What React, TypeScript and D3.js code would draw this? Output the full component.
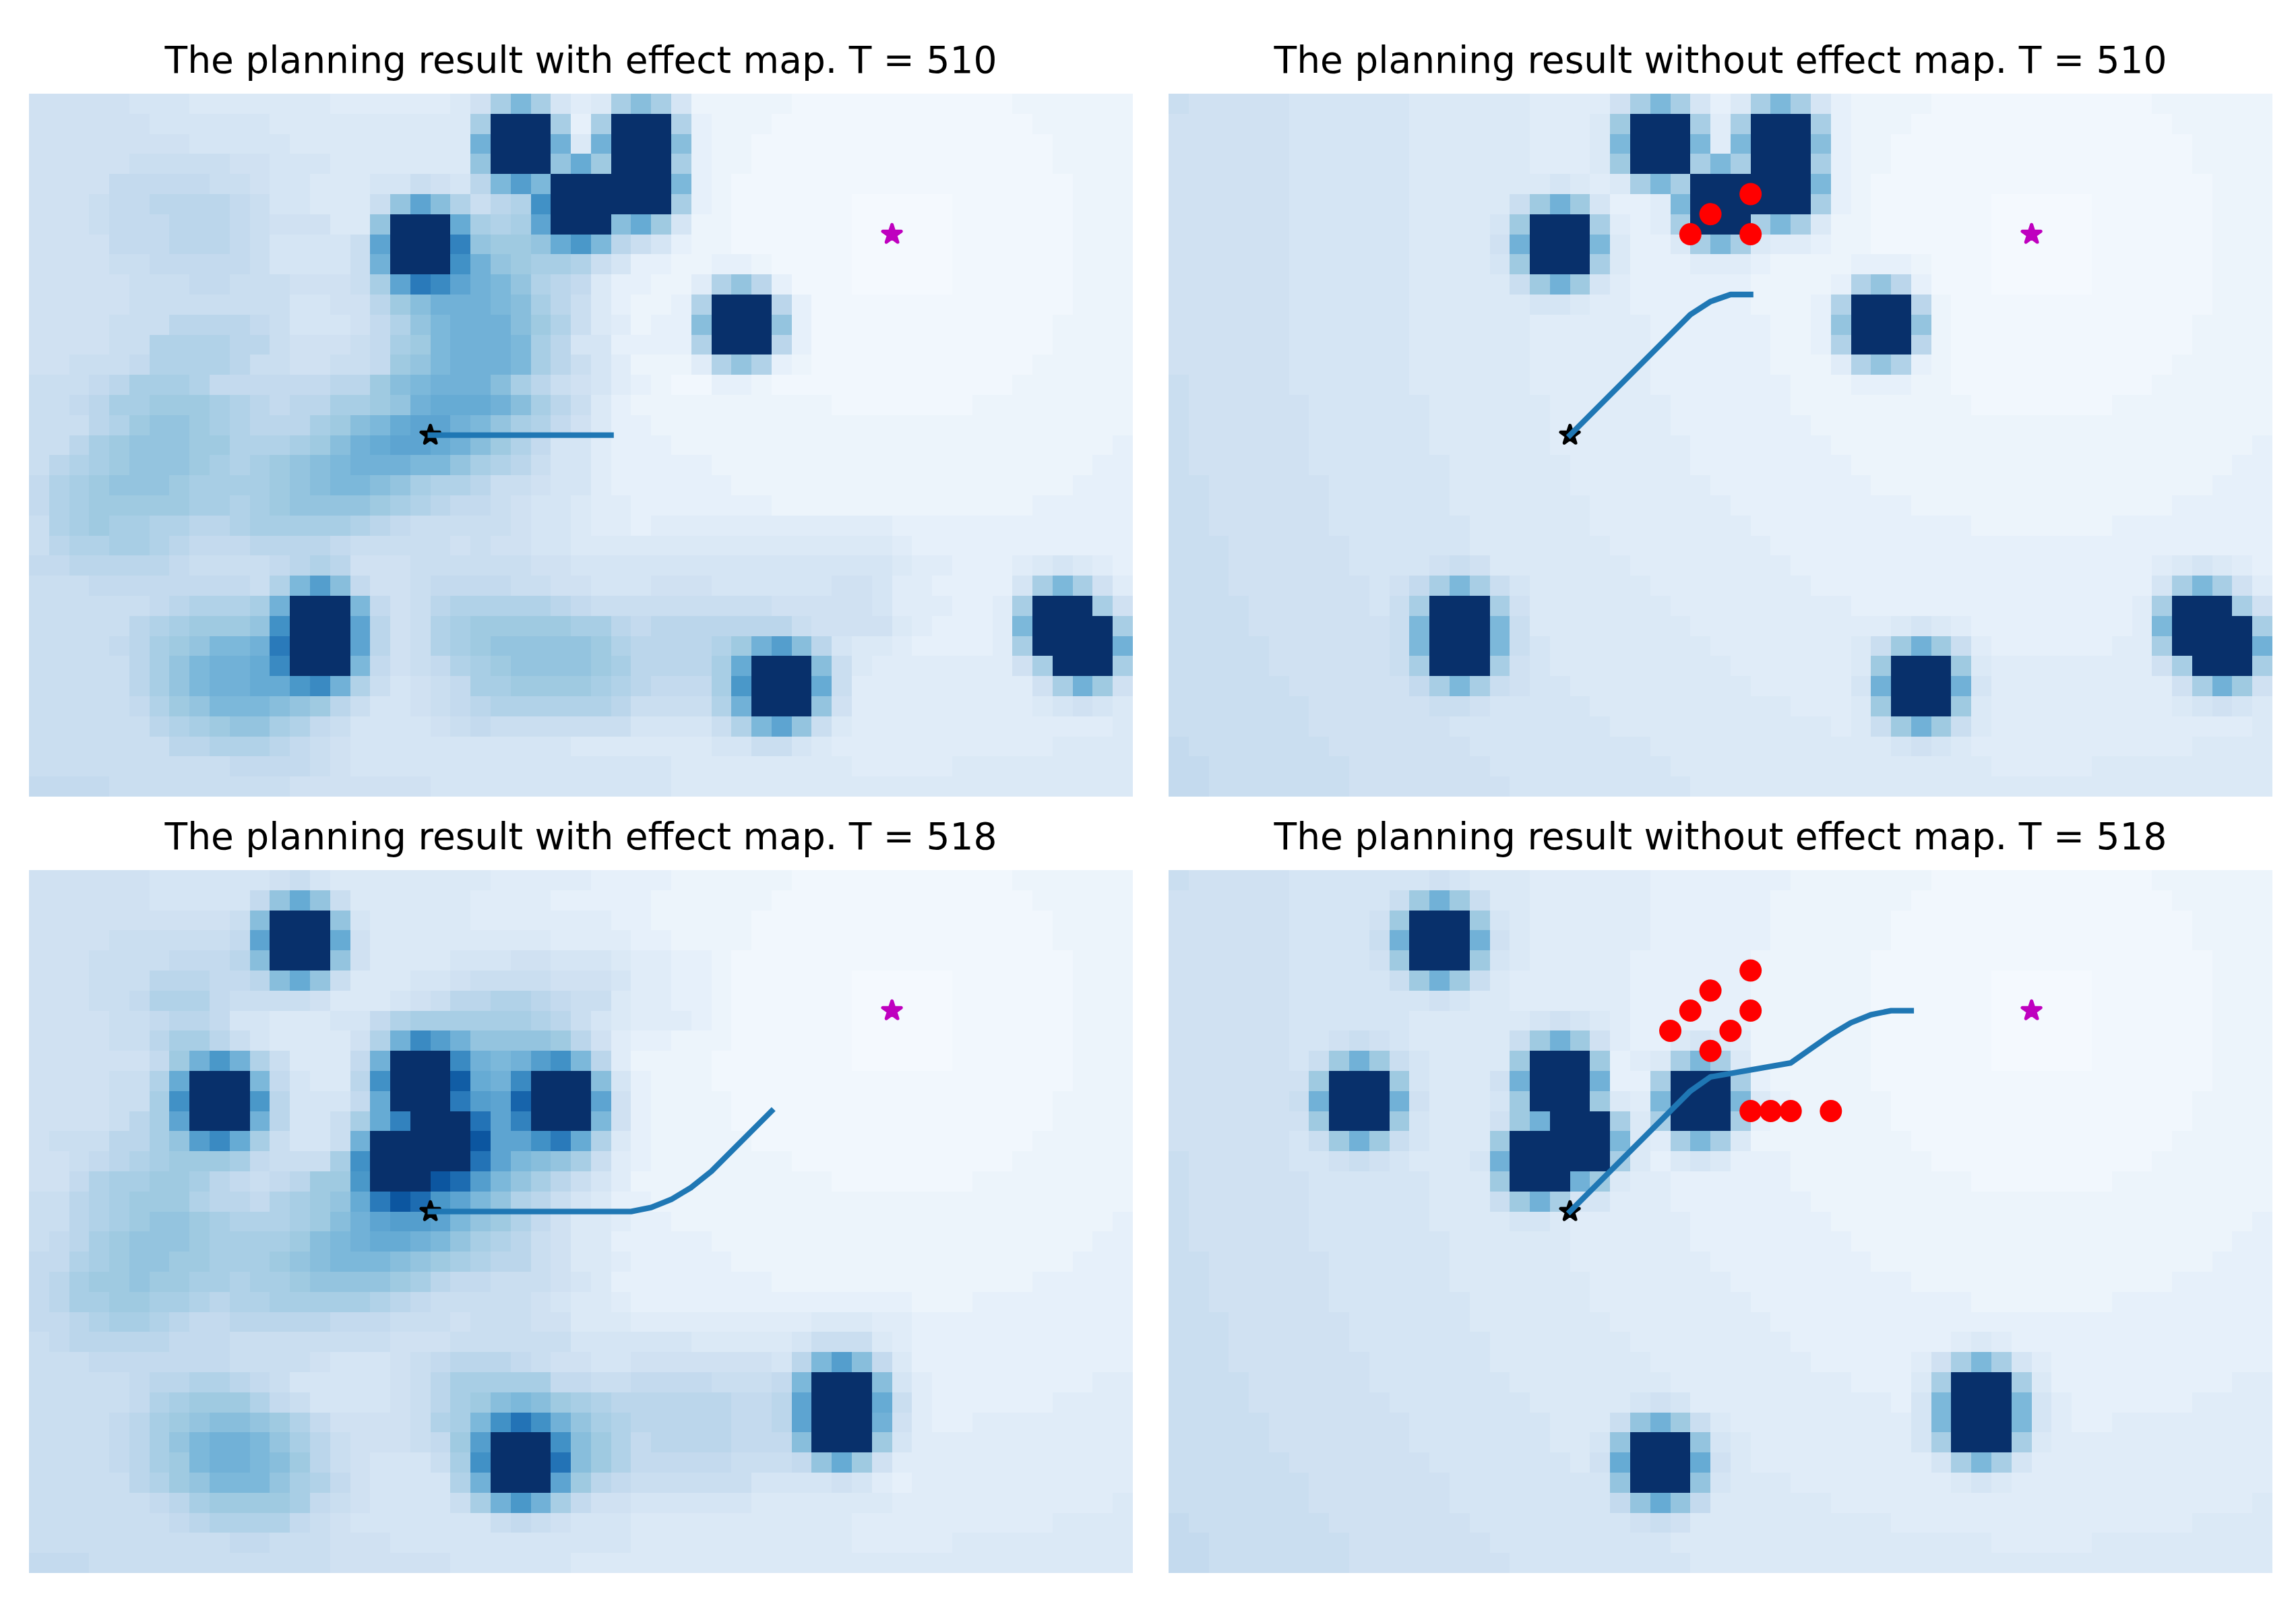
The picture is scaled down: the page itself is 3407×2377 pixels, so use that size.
import React from 'react';
import * as d3 from 'd3';

// Cell values, one char per cell, 0-9a-z = 0..35 (35 is the darkest).
// Spaces are only there to make the columns countable.
const effectCells510 = [
  '7777766655 5555544444 457cgc645c fc62222211 1111111112 22222',
  '7777776666 6655555555 55czzzc3cz zzb3222111 1111111111 22222',
  '7777777766 6665555555 55hzzzh5hz zzf3221111 1111111111 12222',
  '7777788888 7766655555 55ezzzeidz zzc3221111 1111111111 12222',
  '7777999998 8766555668 76agkgzzzz zzg3211111 1111111111 11222',
  '777899aaaa 98665558ej fb8abmzzzz zzc3211111 1000001111 11222',
  '7778999aaa 9877755ezz zicbcjzzzf id62211111 1000001111 11222',
  '7777999aaa 9866668jzz zoeddeilga 8632211111 1000001111 11222',
  '7777889999 9866668hzz zmhedccb86 3322332111 1000001111 11222',
  '7777788899 8887778cjp njhgeba953 3224bea311 1000001111 11222',
  '7777788888 8886677adf hhhgfca853 223bzzza31 1111111111 11222',
  '7777888aaa a9866679be ghhhfdb854 233fzzze31 1111111111 12222',
  '777788bbbb aa877789cd ghhhgca663 333bzzza31 1111111111 12222',
  '778889bbbb a8877889de ghhhgca864 2224beb321 1111111111 22222',
  '8889acccb9 99999aadfg hhhfca8764 3211332111 1111111112 22222',
  '889accdddc ba9aaccdeh iiihfca853 2222222222 1111111222 22222',
  '888abdeedc baaacdfgij jhgecb9753 3222222222 2222222222 22222',
  '88acdeeedd bbbcdfhijj ihfdb96643 3322222222 2222222222 22223',
  '8abcdeeedc bcdefghhhg gecba86643 3333222222 2222222222 22233',
  '9bcdeeedcc ccdefggfec bba8876643 3333322222 2222222222 22333',
  '9bcdddddcc bcdeeeedcb a998766544 3333333222 2222222222 33333',
  '8bcdccbbaa bcccccba98 8888766544 3444444444 4443333333 33333',
  '8abbccba99 9aaaa98888 8787766555 5555555555 5554333333 33333',
  '99aaaaa988 889aba7778 8888877666 6666666666 6665443334 56543',
  '8889999999 98bgkf9778 9999887766 6777666666 7764433336 cgc74',
  '8888889abb bchzzzg978 abbbbba988 8888888777 776444334c zzzc7',
  '88888abcdd demzzzja78 bcdddddcca 9aaaaaaa87 777543334g zzzzc',
  '88889acdeg ghpzzzja78 bcdeeeeedb aaaabdhkfa 655433334c zzzzh',
  '88888acegh hinzzzg978 9bcdeeeedc aaaacizzzf 8544444447 czzzc',
  '88888acegh hiilnhb867 89ccddddcb a999clzzzi 8444444444 7chd7',
  '888889bdeg ggfeda8667 89abbbbbba 8888bhzzze 7444444444 56765',
  '888888abcd eecb986666 7898888888 66668bgje8 5444444444 44445',
  '8888888aab bba9876666 6666666555 5555668865 4444444444 45555',
  '8888888888 9999876666 6666666666 6655555555 5444445555 55555',
  '9999888888 8887777777 6666666666 6655555555 5555555555 55555',
];

const plainCells510 = [
  '8777776666 6655555544 447cgc635c gc63222211 1111111112 22222',
  '7777776666 6655555544 45dzzzc4cz zzc3222111 1111111111 22222',
  '7777776666 6655555544 45gzzzg4gz zzf3221111 1111111111 12222',
  '7777776666 6655555544 45dzzzcgcz zzc3221111 1111111111 12222',
  '7777776666 6655555556 545cgczzzz zzg3211111 1111111111 11222',
  '7777776666 66555558dh d6334gzzzz zzc3211111 1000001111 11222',
  '7777776666 6655556dzz zc434czzzc gc52211111 1000001111 11222',
  '7777776666 6655557hzz zg5335cgc5 4432211111 1000001111 11222',
  '7777776666 6655556dzz zc53334443 2222333211 1000001111 11222',
  '7777776666 66555558dh d643333332 2223bea311 1000001111 11222',
  '7777776666 6655555566 5443333332 223bzzza21 1111111111 11222',
  '7777776666 6655555544 4444333333 223ezzze21 1111111111 12222',
  '7777776666 6655555544 4444333333 223bzzza21 1111111111 12222',
  '7777776666 6655555544 4444333333 2224beb321 1111111111 22222',
  '8777776666 6655555544 4444333333 3222333221 1111111112 22222',
  '8777777666 6665555554 4444433333 3222222222 1111111222 22222',
  '8777777666 6665555554 4444433333 3322222222 2222222222 22222',
  '8777777666 6665555554 4444443333 3332222222 2222222222 22223',
  '8777777666 6666555555 4444443333 3333222222 2222222222 22233',
  '8877777766 6666555555 4444444333 3333322222 2222222222 22333',
  '8877777766 6666555555 5444444433 3333333222 2222222222 33333',
  '8877777766 6666655555 5444444443 3333333333 2222222333 33333',
  '8887777776 6666655555 5544444444 3333333333 3333333333 33333',
  '8887777776 6667875555 5554444444 4333333333 3333333334 56543',
  '8887777777 679cgc8655 5555444444 4433333333 3333333336 cgc74',
  '8888777777 68czzzc755 5555544444 4444333333 333333334c zzzc7',
  '8888777777 78gzzzg855 5555554444 4444445654 333333334g zzzzc',
  '8888877777 78gzzzg865 5555555444 444458dhd8 433333344c zzzzh',
  '8888877777 78czzzc765 5555555544 44445dzzzd 5444444447 czzzc',
  '8888887777 779cgc8766 5555555554 44446hzzzh 6444444444 7chd7',
  '8888888777 7778876666 6555555555 54445dzzzd 5444444444 56765',
  '8888888777 7777666666 6655555555 555458dhd8 5444444444 44445',
  '9888888877 7777766666 6666555555 5555556765 4444444444 45555',
  '9988888887 7777776666 6666655555 5555555555 5444445555 55555',
  '9988888887 7777777666 6666665555 5555555555 5555555555 55555',
];

const effectCells518 = [
  '7777776666 6678655555 5554444433 3322222211 1111111112 22222',
  '7777776666 69eie85555 5544443333 3222222111 1111111111 22222',
  '7777777777 8fzzze6555 5544444443 3222221111 1111111111 12222',
  '7777888888 9jzzzi7555 5555554444 3322221111 1111111111 12222',
  '7778888999 afzzze7555 5666776665 4433211111 1111111111 11222',
  '777888aaa9 9afie85556 6788887776 4433211111 1000001111 11222',
  '777889bbb9 8888755567 8aabba9885 4433211111 1000001111 11222',
  '7777889aa9 66555669bc cccccba865 4443211111 1000001111 11222',
  '777788acca 8655557bhn kheeeeda74 3322211111 1000001111 11222',
  '7777779dhl hb85559hzz znhghkmga4 2222111111 1000001111 11222',
  '777788bizz zg9655amzz ztihnzzzf6 3222111111 1111111111 11222',
  '777788cmzz zla6669izz zpkjszzzj7 3222211111 1111111111 12222',
  '77778acjzz zha668cioz zzqjozzzg7 3222211111 1111111111 12222',
  '7888aacekn ic8668hzzz zzujjmpib5 3222221111 1111111111 22222',
  '7789abcddd c9888cmzzz zzqjgfec84 3222222211 1111111112 22222',
  '779bccddca 989addlzzz urkgeca864 2222222222 1111111222 22222',
  '88abcdddba a9bcdeipur ljgeba8653 3222222222 2222222222 22222',
  '88abcdeedc bbbcdfhjkk jgedb97554 3322222222 2222222222 22223',
  '89acdeeedc cccdfghiih gecba87553 3333222222 2222222222 22233',
  '99bcdeeddc ccdefgggfe dcbaa87554 3333322222 2222222222 22333',
  '9acddeddcc bccdeeeedc a998887653 3333333222 2222222222 33333',
  '9accddccba bbcccccba9 8888876554 3333333333 3333222333 33333',
  '99abccba99 aaaaa99988 8788877555 4444444445 5544333333 33333',
  '89aaaaa999 8888888877 7888888666 6665555568 8854333333 33333',
  '8889999999 8888766678 9aaa987766 77777776ag kf95333333 33333',
  '888889aabb a986666678 accccc9988 99998889gz zzf6433333 33344',
  '888889bcdd db98666678 acdfgfdcba aaaaa99ajz zzi8433333 34444',
  '88889acdef fedb977778 bcgmqmhecb aaaaa99ajz zzh7433444 44444',
  '88889acegh hgeca87778 9dkzzzmfdb 9aaaa999fz zzd6444444 44444',
  '88889acdgh hgfda87666 8cmzzzqfdb 999998889e id74444444 44444',
  '88888abdeg ggecb97666 6bhzzzjda9 8888886666 7643444444 44444',
  '8888889acd dddc987666 68chlhc977 6666665555 5554444444 44445',
  '88888889ab bbb9876666 6668987666 5555555555 5444444444 45555',
  '8888888888 9988877766 6666666666 5555555555 5444445555 55555',
  '9998888888 8888877777 7666666555 5555555555 5555555555 55555',
];

const plainCells518 = [
  '8777776666 6667655544 4444333333 3222222211 1111111112 22222',
  '7777776666 68dhd85544 4444333333 2222222111 1111111111 22222',
  '7777776666 7dzzzd6544 4444333333 2222221111 1111111111 12222',
  '7777776666 8hzzzh7544 4444333333 2222221111 1111111111 12222',
  '7777776666 7dzzzd6544 4443333332 2222211111 1111111111 11222',
  '7777776666 68dhd85444 4443333332 2222211111 1000001111 11222',
  '7777776666 6667655444 4443333332 2222211111 1000001111 11222',
  '7777776666 6655555567 6543333332 2222211111 1000001111 11222',
  '7777776678 76555558dh d743356542 2222211111 1000001111 11222',
  '77777768dh d865555dzz zd345cgc52 2222211111 1000001111 11222',
  '7777777dzz zd65557hzz zh33czzzc3 2222211111 1111111111 11222',
  '7777778hzz zh75556dzz zd54gzzzg5 3222221111 1111111111 12222',
  '7777777dzz zd65557dhz zzc5czzzc3 2222221111 1111111111 12222',
  '77777768dh d86555dzzz zzg54cgc52 2222222111 1111111111 22222',
  '8777776678 765556hzzz zzc5356533 3222222211 1111111112 22222',
  '8777777666 666555dzzz hd54433333 3222222222 1111111222 22222',
  '8777777666 6665558dhc 6644433333 3322222222 2222222222 22222',
  '8777777666 6665555665 4444443333 3332222222 2222222222 22223',
  '8777777666 6666555555 4444443333 3333222222 2222222222 22233',
  '8877777766 6666555555 4444444333 3333322222 2222222222 22333',
  '8877777766 6666555555 5444444433 3333333222 2222222222 33333',
  '8877777766 6666655555 5444444443 3333333333 2222222333 33333',
  '8887777776 6666655555 5544444444 3333333333 3333333333 33333',
  '8887777776 6666665555 5554444444 4333333334 5433333333 33333',
  '8887777777 6666665555 5555444444 443333347c gc64333333 33333',
  '8888777777 6666666555 5555544444 44443335cz zzc5333333 33344',
  '8888777777 7666666655 5556764444 44444436gz zzg6433333 34444',
  '8888877777 7766666665 558ehd8544 44444446gz zzg6433444 44444',
  '8888877777 7766666665 56ezzze654 44444446cz zzc5444444 44444',
  '8888887777 7776666666 57izzzi754 444444446c gc64444444 44444',
  '8888888777 7777666666 66ezzze655 5444444445 6544444444 44444',
  '8888888777 7777666666 669eie9555 5554444444 4444444444 44445',
  '9888888877 7777766666 6667875555 5555554444 4444444444 45555',
  '9988888887 7777776666 6666655555 5555555555 5444445555 55555',
  '9988888887 7777777666 6666665555 5555555555 5555555555 55555',
];

// planned paths, obstacles predicted by the plain planner, in grid units
const path510Effect = [[20, 17], [29, 17]];
const path510Plain = [[20, 17], [26, 11], [27, 10.35], [28, 10], [29, 10]];
const path518Effect = [[20, 17], [30, 17], [31, 16.8], [32, 16.4], [33, 15.8], [34, 15], [37, 12]];
const path518Plain = [[20, 17], [26, 11], [27, 10.3], [31, 9.6], [32, 8.9], [33, 8.2], [34, 7.6], [35, 7.2], [36, 7], [37, 7]];
const dots510 = [[26, 7], [27, 6], [29, 5], [29, 7]];
const dots518 = [[29, 5], [27, 6], [26, 7], [29, 7], [25, 8], [28, 8], [27, 9], [29, 12], [30, 12], [31, 12], [33, 12]];
const startPoint = [20, 17];
const goalPoint = [43, 7];

const panels = [
  { title: 'The planning result with effect map. T = 510', cells: effectCells510, path: path510Effect, dots: [], left: 43, top: 139 },
  { title: 'The planning result without effect map. T = 510', cells: plainCells510, path: path510Plain, dots: dots510, left: 1734, top: 139 },
  { title: 'The planning result with effect map. T = 518', cells: effectCells518, path: path518Effect, dots: [], left: 43, top: 1291 },
  { title: 'The planning result without effect map. T = 518', cells: plainCells518, path: path518Plain, dots: dots518, left: 1734, top: 1291 },
];

const panelWidth = 1638;
const panelHeight = 1043;

const color = d3.scaleLinear<string>()
  .domain(d3.range(9).map(i => i / 8))
  .range(d3.schemeBlues[9]);

const star = d3.symbol().type(d3.symbolStar).size(230)();

const Panel = ({ title, cells, path, dots, left, top }: any) => {
  const x = d3.scaleLinear().domain([0, 55]).range([left, left + panelWidth]);
  const y = d3.scaleLinear().domain([0, 35]).range([top, top + panelHeight]);
  const line = d3.line().x(d => x(d[0])).y(d => y(d[1]));

  return (
    <g>
      <text
        x={left + panelWidth / 2}
        y={top - 31}
        textAnchor="middle"
        fontFamily="DejaVu Sans"
        fontSize={55}
        fill="#000"
      >
        {title}
      </text>
      <g shapeRendering="crispEdges">
        {cells.map((row: string, r: number) =>
          row.replace(/ /g, '').split('').map((ch, c) => (
            <rect
              key={`${r}-${c}`}
              x={Math.round(x(c))}
              y={Math.round(y(r))}
              width={Math.round(x(c + 1)) - Math.round(x(c))}
              height={Math.round(y(r + 1)) - Math.round(y(r))}
              fill={color(Math.max(parseInt(ch, 36), 0.5) / 35)}
            />
          ))
        )}
      </g>
      <path
        d={star!}
        transform={`translate(${x(startPoint[0])},${y(startPoint[1])})`}
        fill="#000"
        stroke="#000"
        strokeWidth={5}
        strokeLinejoin="round"
      />
      <path
        d={star!}
        transform={`translate(${x(goalPoint[0])},${y(goalPoint[1])})`}
        fill="#bf00bf"
        stroke="#bf00bf"
        strokeWidth={5}
        strokeLinejoin="round"
      />
      <path
        d={line(path as any)!}
        fill="none"
        stroke="#1f77b4"
        strokeWidth={8.3}
        strokeLinecap="square"
        strokeLinejoin="round"
      />
      {dots.map((d: number[], i: number) => (
        <circle key={i} cx={x(d[0])} cy={y(d[1])} r={16.5} fill="#ff0000" />
      ))}
    </g>
  );
};

export default function App() {
  return (
    <svg
      width={3407}
      height={2377}
      style={{ position: 'absolute', left: 0, top: 0, display: 'block', background: '#fff' }}
    >
      {panels.map(p => (
        <Panel key={p.title} {...p} />
      ))}
    </svg>
  );
}
